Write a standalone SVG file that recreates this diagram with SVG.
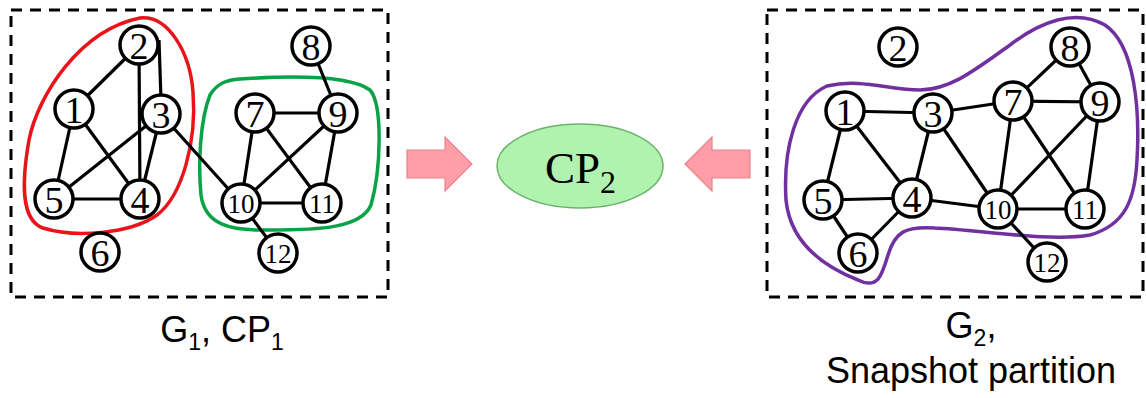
<svg xmlns="http://www.w3.org/2000/svg" width="1146" height="398" viewBox="0 0 1146 398">
<style>
.box{fill:none;stroke:#000;stroke-width:3;stroke-dasharray:11 8}
.e line{stroke:#000;stroke-width:3.2}
.n circle{fill:#fff;stroke:#000;stroke-width:3.5}
.n text{font-family:"Liberation Serif",serif;font-size:38px;text-anchor:middle;fill:#000}
.n text.s{font-size:27px}
.lbl{font-family:"Liberation Sans",Arial,sans-serif;font-size:36px;fill:#000}
.arr{fill:#ff9ea6;stroke:#e8838d;stroke-width:1.2}
</style>
<rect class="box" x="11" y="10" width="377" height="287"/>
<rect class="box" x="767" y="10" width="376" height="287"/>

<g id="hulls">
<path id="red-group" d="M140,18 C168,15 190,52 193,92 C197,142 182,196 157,215 C130,234 75,238 43,228 C20,220 22,180 29,140 C38,95 80,30 140,18 Z" fill="none" stroke="#e8141a" stroke-width="3.5"/>
<path id="green-group" d="M240,79 C300,75 352,77 370,90 C383,105 381,170 371,205 C361,228 320,230 270,230 C230,231 205,225 201,195 C198,165 200,120 210,95 C218,82 228,80 240,79 Z" fill="none" stroke="#0aa247" stroke-width="3.5"/>
<path id="purple-group" d="M827,86 C860,78 890,90 920,90 C950,90 975,70 1010,45 C1040,22 1075,8 1105,25 C1135,45 1140,110 1137,160 C1135,200 1125,225 1090,235 C1050,242 980,230 935,228 C905,226 895,232 888,255 C882,275 878,290 858,280 C820,265 790,240 786,200 C783,150 795,100 827,86 Z" fill="none" stroke="#7030a0" stroke-width="3.5"/>
</g>

<g id="connectors" class="e">
<!-- left graph -->
<line x1="74" y1="109" x2="139" y2="45"/>
<line x1="159" y1="40" x2="161" y2="100"/>
<line x1="139" y1="45" x2="140" y2="199"/>
<line x1="74" y1="109" x2="140" y2="199"/>
<line x1="74" y1="109" x2="54" y2="199"/>
<line x1="161" y1="114" x2="54" y2="199"/>
<line x1="161" y1="114" x2="140" y2="199"/>
<line x1="54" y1="199" x2="140" y2="199"/>
<line x1="161" y1="114" x2="241" y2="203"/>
<line x1="311" y1="46" x2="338" y2="113"/>
<line x1="255" y1="113" x2="338" y2="113"/>
<line x1="255" y1="113" x2="241" y2="203"/>
<line x1="255" y1="113" x2="322" y2="203"/>
<line x1="338" y1="113" x2="241" y2="203"/>
<line x1="338" y1="113" x2="322" y2="203"/>
<line x1="241" y1="203" x2="322" y2="203"/>
<line x1="241" y1="203" x2="278" y2="253"/>
<!-- right graph -->
<line x1="845" y1="111" x2="933" y2="113"/>
<line x1="933" y1="113" x2="1013" y2="101"/>
<line x1="1013" y1="101" x2="1070" y2="47"/>
<line x1="1070" y1="47" x2="1100" y2="102"/>
<line x1="1013" y1="101" x2="1100" y2="102"/>
<line x1="845" y1="111" x2="823" y2="200"/>
<line x1="845" y1="111" x2="912" y2="198"/>
<line x1="933" y1="113" x2="912" y2="198"/>
<line x1="933" y1="113" x2="998" y2="209"/>
<line x1="823" y1="200" x2="912" y2="198"/>
<line x1="823" y1="200" x2="858" y2="253"/>
<line x1="912" y1="198" x2="858" y2="253"/>
<line x1="912" y1="198" x2="998" y2="209"/>
<line x1="1013" y1="101" x2="998" y2="209"/>
<line x1="1013" y1="101" x2="1085" y2="209"/>
<line x1="1100" y1="102" x2="998" y2="209"/>
<line x1="1100" y1="102" x2="1085" y2="209"/>
<line x1="998" y1="209" x2="1085" y2="209"/>
<line x1="998" y1="209" x2="1047" y2="262"/>
</g>

<g id="g1-nodes" class="n">
<g id="g1-n1"><circle cx="74" cy="109" r="19"/><text x="74" y="123">1</text></g>
<g id="g1-n2"><circle cx="139" cy="45" r="19"/><text x="139" y="59">2</text></g>
<g id="g1-n3"><circle cx="161" cy="114" r="19"/><text x="161" y="128">3</text></g>
<g id="g1-n4"><circle cx="140" cy="199" r="19"/><text x="140" y="213">4</text></g>
<g id="g1-n5"><circle cx="54" cy="199" r="19"/><text x="54" y="213">5</text></g>
<g id="g1-n6"><circle cx="100" cy="252" r="19"/><text x="100" y="266">6</text></g>
<g id="g1-n7"><circle cx="255" cy="113" r="19"/><text x="255" y="127">7</text></g>
<g id="g1-n8"><circle cx="311" cy="46" r="19"/><text x="311" y="60">8</text></g>
<g id="g1-n9"><circle cx="338" cy="113" r="19"/><text x="338" y="127">9</text></g>
<g id="g1-n10"><circle cx="241" cy="203" r="19"/><text class="s" x="241" y="213">10</text></g>
<g id="g1-n11"><circle cx="322" cy="203" r="19"/><text class="s" x="322" y="213">11</text></g>
<g id="g1-n12"><circle cx="278" cy="253" r="19"/><text class="s" x="278" y="263">12</text></g>
</g>

<g id="g2-nodes" class="n">
<g id="g2-n1"><circle cx="845" cy="111" r="19"/><text x="845" y="125">1</text></g>
<g id="g2-n2"><circle cx="898" cy="47" r="19"/><text x="898" y="61">2</text></g>
<g id="g2-n3"><circle cx="933" cy="113" r="19"/><text x="933" y="127">3</text></g>
<g id="g2-n4"><circle cx="912" cy="198" r="19"/><text x="912" y="212">4</text></g>
<g id="g2-n5"><circle cx="823" cy="200" r="19"/><text x="823" y="214">5</text></g>
<g id="g2-n6"><circle cx="858" cy="253" r="19"/><text x="858" y="267">6</text></g>
<g id="g2-n7"><circle cx="1013" cy="101" r="19"/><text x="1013" y="115">7</text></g>
<g id="g2-n8"><circle cx="1070" cy="47" r="19"/><text x="1070" y="61">8</text></g>
<g id="g2-n9"><circle cx="1100" cy="102" r="19"/><text x="1100" y="116">9</text></g>
<g id="g2-n10"><circle cx="998" cy="209" r="19"/><text class="s" x="998" y="219">10</text></g>
<g id="g2-n11"><circle cx="1085" cy="209" r="19"/><text class="s" x="1085" y="219">11</text></g>
<g id="g2-n12"><circle cx="1047" cy="262" r="19"/><text class="s" x="1047" y="272">12</text></g>
</g>

<g id="arrow-left"><path class="arr" d="M407,150 H445 V137 L472,164 L445,191 V178 H407 Z"/></g>
<g id="arrow-right"><path class="arr" d="M750,150 H712 V137 L685,164 L712,191 V178 H750 Z"/></g>

<g id="cp2">
<ellipse cx="580" cy="166" rx="83" ry="42" fill="#b2f2b0" stroke="#6ab468" stroke-width="1.5"/>
<text x="545" y="183" font-family="Liberation Serif,serif" font-size="45" fill="#000">CP<tspan font-size="32" dy="10">2</tspan></text>
</g>

<text class="lbl" x="222" y="342" text-anchor="middle">G<tspan font-size="23" dy="8">1</tspan><tspan dy="-8">, CP</tspan><tspan font-size="23" dy="8">1</tspan></text>
<text class="lbl" x="971" y="338" text-anchor="middle">G<tspan font-size="23" dy="8">2</tspan><tspan dy="-8">,</tspan></text>
<text class="lbl" x="971" y="383" text-anchor="middle" font-size="37">Snapshot partition</text>
</svg>
